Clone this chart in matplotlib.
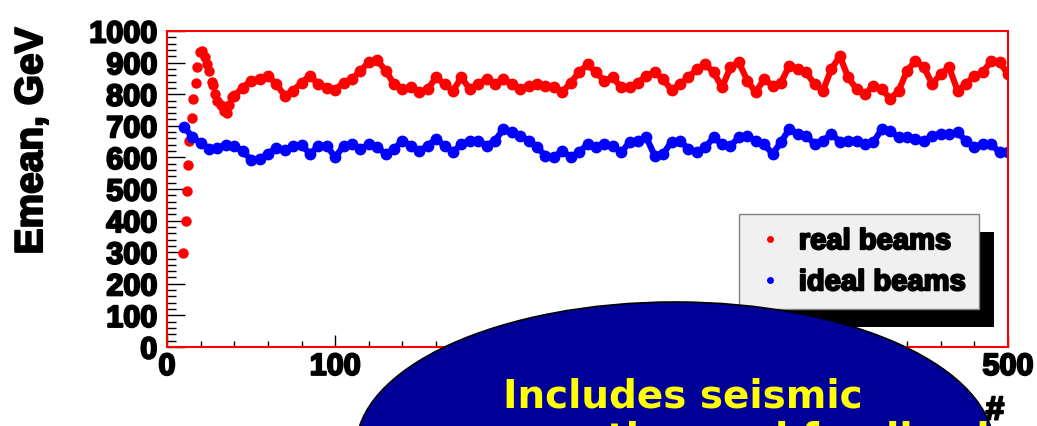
import numpy as np
import matplotlib
matplotlib.use('Agg')
import matplotlib.pyplot as plt
from matplotlib import patheffects
from matplotlib.patches import Ellipse, Rectangle
from matplotlib.lines import Line2D
from matplotlib.ticker import MultipleLocator
from matplotlib.transforms import IdentityTransform

plt.rcParams['font.family'] = ['Liberation Sans', 'DejaVu Sans']
plt.rcParams['font.weight'] = 'bold'

# real beams: first points of the ramp, then the rest every 5 units
red_x_start = [9.3, 11.1, 12.1, 12.7, 13.3, 14.9, 15.3, 17.3, 17.7, 19.6, 21, 22.5,
               24, 25, 26.5, 27.5, 28.5, 30, 32, 34, 35.5, 37, 38.5]
red_y_start = [296, 400, 494, 577, 653, 725, 785, 834, 885, 932, 938, 918,
               895, 875, 840, 830, 800, 778, 765, 748, 742, 765, 790]
red_y_rest = [795, 821, 843, 848, 858, 832, 795, 811, 837, 858, 832, 821, 814,
              837, 848, 874, 901, 908, 874, 832, 816, 822, 806, 816, 853, 832, 811, 853, 816, 832, 848, 832, 848,
              832, 816, 827, 832, 827, 822, 806, 837, 869, 895, 869, 843, 853, 822, 822, 837, 858, 869, 848, 812,
              832, 853, 879, 895, 869, 822, 885, 901, 843, 806, 848, 827, 837, 890, 879, 869, 832, 811, 880, 920,
              853, 816, 800, 827, 816, 785, 811, 874, 906, 885, 832, 864, 885, 811, 832, 858, 869, 906, 901, 864]
red_x_rest = list(range(40, 501, 5))

# ideal beams, every 5 units
blue_x = list(range(10, 501, 5))
blue_y = [697, 665, 645, 628, 630, 640, 637, 620, 592, 595, 612, 630, 625, 635, 638, 612, 635, 637, 600,
          637, 642, 626, 642, 632, 611, 626, 653, 637, 621, 637, 658, 637, 616, 642, 653, 653, 637, 653, 690,
          679, 669, 653, 632, 605, 600, 621, 600, 616, 642, 632, 642, 637, 616, 648, 653, 663, 605, 611, 650,
          653, 626, 616, 632, 663, 642, 637, 663, 669, 653, 642, 611, 648, 690, 674, 669, 642, 653, 674, 650,
          653, 653, 642, 648, 690, 684, 663, 663, 658, 653, 669, 674, 674, 679, 653, 632, 642, 642, 616, 616]

stroke = [patheffects.withStroke(linewidth=1.5, foreground='black')]

fig = plt.figure(figsize=(10.37, 4.27), dpi=100)
ax = fig.add_axes([167/1037, 1-348/427, 841/1037, 316/427])

# the points are so dense in the original that they merge into a thick chain
ax.plot(red_x_start, red_y_start, 'o', color='#ff0000', ms=7.5, mec='none', zorder=2)
ax.plot(red_x_rest, red_y_rest, '-o', color='#ff0000', lw=4.5, ms=8.5, mec='none', zorder=2)
ax.plot(blue_x, blue_y, '-o', color='#0000ff', lw=4.5, ms=8.5, mec='none', zorder=2)

ax.set_xlim(0, 500)
ax.set_ylim(0, 1000)
ax.xaxis.set_major_locator(MultipleLocator(100))
ax.xaxis.set_minor_locator(MultipleLocator(20))
ax.yaxis.set_major_locator(MultipleLocator(100))
ax.yaxis.set_minor_locator(MultipleLocator(20))
ax.tick_params(which='both', direction='in', top=False, right=False, width=1, labelsize=22)
ax.tick_params(axis='y', which='major', length=13, pad=7)
ax.tick_params(axis='y', which='minor', length=6.5)
ax.tick_params(axis='x', which='major', length=8.5, pad=3.5)
ax.tick_params(axis='x', which='minor', length=4)
for lab in ax.get_xticklabels() + ax.get_yticklabels():
    lab.set_fontweight('bold')
    lab.set_path_effects(stroke)

for s in ax.spines.values():
    s.set_color('black')
    s.set_linewidth(1.2)
ax.add_patch(Rectangle((0, 0), 1, 1, transform=ax.transAxes, fill=False,
                       edgecolor='#ff0000', lw=1.5, clip_on=False, zorder=3))

ax.set_ylabel('Emean, GeV', fontsize=28, fontweight='bold')
ax.yaxis.set_label_coords((32-167)/841, (348-142)/316)
ax.yaxis.label.set_va('center')
ax.yaxis.label.set_path_effects(stroke)
ax.set_xlabel('#', fontsize=24, fontweight='bold')
ax.xaxis.set_label_coords((995-167)/841, (348-412)/316)
ax.xaxis.label.set_va('center')
ax.xaxis.label.set_path_effects(stroke)

handles = [Line2D([], [], ls='none', marker='o', color='#ff0000', ms=5, mec='none'),
           Line2D([], [], ls='none', marker='o', color='#0000ff', ms=5, mec='none')]
leg = ax.legend(handles, ['real beams', 'ideal beams'], loc='upper left',
                bbox_to_anchor=(739/1037, 1-215/427), bbox_transform=fig.transFigure,
                borderaxespad=0, fancybox=False, framealpha=1, facecolor='#f0f0f0',
                edgecolor='#808080', prop={'size': 21, 'weight': 'bold'},
                handlelength=1.2, handletextpad=0.4, borderpad=0.45, labelspacing=0.45)
leg.get_frame().set_linewidth(1)
for t in leg.get_texts():
    t.set_path_effects(stroke)

# black drop shadow under the legend box
fig.canvas.draw()
bb = leg.get_frame().get_window_extent()
shadow = Rectangle((bb.x0 + 15, bb.y0 - 18), bb.width, bb.height, transform=IdentityTransform(),
                   facecolor='black', edgecolor='none', clip_on=False, zorder=leg.get_zorder() - 0.1)
ax.add_artist(shadow)

# dark blue callout bubble over the bottom of the plot
blob = Ellipse((675/1037, 1-449/427), 638/1037, 292/427, transform=fig.transFigure,
               facecolor='#000099', edgecolor='black', lw=1.2, zorder=10)
fig.add_artist(blob)
fig.text(503/1037, 1-408/427, 'Includes seismic', color='#ffff00', fontsize=28,
         fontweight='bold', family='DejaVu Sans', ha='left', va='baseline', zorder=11)
fig.text(540/1037, 1-451/427, 'motion and feedback', color='#ffff00', fontsize=28,
         fontweight='bold', family='DejaVu Sans', ha='left', va='baseline', zorder=11)

fig.savefig('out.png', dpi=100)
